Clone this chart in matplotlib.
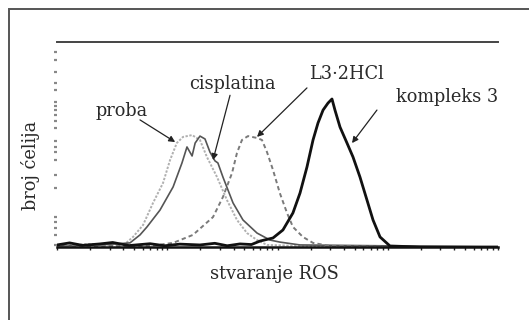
import matplotlib
matplotlib.use("Agg")
import matplotlib.pyplot as plt
from matplotlib.patches import Rectangle

# Fluorescence intensity (log scale) and cell counts for each sample
proba_x = [1.0, 1.99, 3.03, 4.14, 4.89, 6.03, 7.43, 9.15, 10.6, 12.2, 13.9, 16.8, 19.8,
           22.9, 28.3, 34.8, 42.9, 52.9, 65.2, 80.3, 160, 455, 1292, 9795]
proba_y = [0.5, 1.5, 1.0, 1.5, 4.9, 10.7, 21.5, 31.2, 42.4, 50.7, 53.7, 54.6, 52.2,
           43.9, 34.1, 22.9, 13.2, 6.8, 3.4, 1.0, 0.5, 0.5, 0, 0]

cis_x = [1.0, 2.45, 4.59, 5.66, 6.55, 8.59, 11.3, 13.6, 15.1, 16.8, 17.9, 19.8, 22.0,
         24.4, 27.1, 28.8, 32.0, 39.5, 48.6, 65.2, 85.5, 105, 160, 1292, 9795]
cis_y = [0.5, 1.0, 2.0, 5.9, 9.8, 18.0, 29.3, 41.0, 48.8, 44.4, 50.7, 54.1, 52.7,
         46.3, 42.0, 41.0, 34.1, 21.5, 13.2, 6.8, 3.4, 2.4, 1.0, 0.5, 0]

l3_x = [1.0, 6.98, 11.3, 17.1, 26.0, 32.0, 38.7, 42.9, 47.6, 54.0, 65.2, 72.3, 80.3,
        91.0, 105, 122, 138, 170, 210, 299, 1292, 9795]
l3_y = [0.5, 0.5, 2.0, 5.9, 14.6, 24.4, 36.1, 45.9, 52.2, 54.1, 53.2, 52.2, 46.3,
        37.6, 26.3, 16.6, 9.8, 4.9, 2.0, 0.5, 0, 0]

k3_x = [1.0, 1.3, 1.7, 2.45, 3.2, 4.5, 6.98, 9.5, 13.0, 19.8, 27.0, 35.0, 45.7, 58.0,
        69.4, 91.0, 112, 138, 160, 185, 210, 233, 259, 287, 312, 332, 369, 427, 484,
        560, 648, 735, 851, 1047, 1963, 4520, 9795]
k3_y = [1.0, 2.0, 0.8, 1.5, 2.2, 0.7, 1.6, 0.6, 1.4, 1.0, 1.8, 0.6, 1.5, 1.2,
        2.9, 4.4, 8.3, 16.6, 26.3, 39.0, 52.2, 60.5, 66.8, 70.2, 72.2, 66.8, 58.5,
        50.7, 43.9, 34.1, 22.9, 13.2, 4.9, 0.5, 0, 0, 0]

# Tick marks along the count axis
y_ticks = [1.0, 5.9, 9.3, 12.2, 14.6, 28.8, 35.1, 42.4, 46.3, 48.8, 51.7, 58.0,
           61.5, 64.4, 66.8, 68.8, 70.7, 76.6, 80.0, 85.4, 91.2, 95.1]

# Curve labels: text, text centre, arrow tail, arrow tip (data coordinates)
labels = ["proba", "cisplatina", "L3·2HCl", "kompleks 3"]
label_pos = [(3.89, 66.5), (38.7, 79.5), (418, 84.5), (3450, 73.0)]
arrow_tail = [(5.66, 62.0), (37.1, 74.0), (185, 77.6), (798, 66.8)]
arrow_tip = [(11.8, 51.2), (26.0, 42.4), (65.2, 53.7), (474, 50.7)]

fig = plt.figure(figsize=(5.29, 3.20), dpi=100)
fig.patch.set_facecolor("white")

# Outer frame
fig.patches.append(Rectangle((9 / 529, -0.1), 1.2, 1.1 - 9 / 320,
                             transform=fig.transFigure, fill=False,
                             edgecolor="#555555", linewidth=1.4))

ax = fig.add_axes([57 / 529, 1 - 247 / 320, 441 / 529, 205 / 320])
ax.set_facecolor("white")

ax.plot(proba_x, proba_y, color="#b0b0b0", lw=1.4, ls=(0, (1.2, 0.8)))
ax.plot(cis_x, cis_y, color="#555555", lw=1.2)
ax.plot(l3_x, l3_y, color="#7a7a7a", lw=1.4, ls=(0, (2.2, 1.6)))
ax.plot(k3_x, k3_y, color="#111111", lw=2.0)

ax.set_xscale("log")
ax.set_xlim(1, 1e4)
ax.set_ylim(0, 100)

for s in ("left", "right"):
    ax.spines[s].set_visible(False)
ax.spines["top"].set_color("#444444")
ax.spines["top"].set_linewidth(1.4)
ax.spines["bottom"].set_color("#111111")
ax.spines["bottom"].set_linewidth(1.8)

ax.set_yticks(y_ticks)
ax.set_yticklabels([])
ax.tick_params(axis="y", direction="out", length=2.5, width=1.6, color="#888888")
ax.tick_params(axis="x", which="both", direction="out", length=2.5, width=1.0,
               color="#222222", labelbottom=False)

serif = "DejaVu Serif"
tc = "#2a2a2a"
fs = 12.8
fig.text(274 / 529, 1 - 274 / 320, "stvaranje ROS", family=serif, fontsize=fs,
         color=tc, ha="center", va="center")
fig.text(31 / 529, 1 - 165 / 320, "broj ćelija", family=serif, fontsize=fs,
         color=tc, ha="center", va="center", rotation=90)

arrow = dict(arrowstyle="-|>", color="#222222", lw=0.9, mutation_scale=9,
             shrinkA=0, shrinkB=0)
for text, pos, tail, tip in zip(labels, label_pos, arrow_tail, arrow_tip):
    ax.text(pos[0], pos[1], text, family=serif, fontsize=fs, color=tc,
            ha="center", va="center")
    ax.annotate("", xy=tip, xytext=tail, arrowprops=arrow)

fig.savefig("out.png", dpi=100, facecolor="white")
